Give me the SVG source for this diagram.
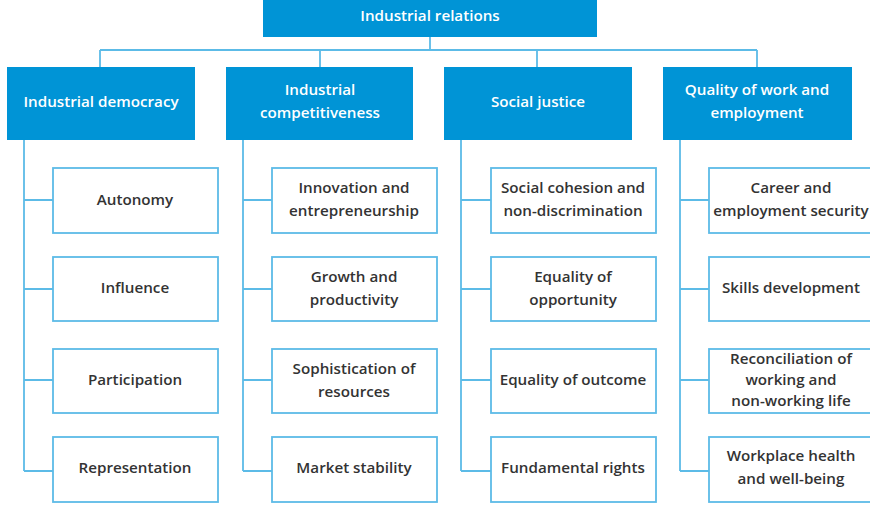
<svg xmlns="http://www.w3.org/2000/svg" width="870" height="507" viewBox="0 0 870 507">
<style>
.hd{fill:#0094d6}
.hdt{fill:#ffffff;font-family:"Open Sans",sans-serif;font-weight:600;font-size:15.2px;text-anchor:middle}
.ch{fill:#ffffff;stroke:#5cbbe7;stroke-width:1.8}
.cht{fill:#333333;font-family:"Open Sans",sans-serif;font-weight:600;font-size:15.2px;text-anchor:middle}
.ln{fill:none;stroke:#5cbbe7;stroke-width:1.8}
</style>
<rect width="870" height="507" fill="#ffffff"/>
<g id="connectors">
<path class="ln" d="M430,37V50M100,50H757M100,50V67M320,50V67M537,50V67M757,50V67"/>
<path class="ln" d="M24,140V471M24,200H53M24,289H53M24,380H53M24,471H53"/>
<path class="ln" d="M243,140V471M243,200H272M243,289H272M243,380H272M243,471H272"/>
<path class="ln" d="M461,140V471M461,200H491M461,289H491M461,380H491M461,471H491"/>
<path class="ln" d="M680,140V471M680,200H709M680,289H709M680,380H709M680,471H709"/>
</g>
<g id="root"><rect class="hd" x="263" y="0" width="334" height="37"/><text class="hdt" x="430" y="21">Industrial relations</text></g>
<g id="cat1"><rect class="hd" x="7" y="67" width="188" height="73"/><text class="hdt" x="101" y="107">Industrial democracy</text></g>
<g id="cat2"><rect class="hd" x="226" y="67" width="187" height="73"/><text class="hdt" x="320" y="95">Industrial</text><text class="hdt" x="320" y="118">competitiveness</text></g>
<g id="cat3"><rect class="hd" x="444" y="67" width="188" height="73"/><text class="hdt" x="538" y="107">Social justice</text></g>
<g id="cat4"><rect class="hd" x="663" y="67" width="189" height="73"/><text class="hdt" x="757" y="95">Quality of work and</text><text class="hdt" x="757" y="118">employment</text></g>

<g id="c1r1"><rect class="ch" x="53" y="168" width="165" height="65"/><text class="cht" x="135" y="205">Autonomy</text></g>
<g id="c1r2"><rect class="ch" x="53" y="257" width="165" height="64"/><text class="cht" x="135" y="293">Influence</text></g>
<g id="c1r3"><rect class="ch" x="53" y="349" width="165" height="64"/><text class="cht" x="135" y="385">Participation</text></g>
<g id="c1r4"><rect class="ch" x="53" y="437" width="165" height="65"/><text class="cht" x="135" y="473">Representation</text></g>

<g id="c2r1"><rect class="ch" x="272" y="168" width="165" height="65"/><text class="cht" x="354" y="193">Innovation and</text><text class="cht" x="354" y="216">entrepreneurship</text></g>
<g id="c2r2"><rect class="ch" x="272" y="257" width="165" height="64"/><text class="cht" x="354" y="282">Growth and</text><text class="cht" x="354" y="305">productivity</text></g>
<g id="c2r3"><rect class="ch" x="272" y="349" width="165" height="64"/><text class="cht" x="354" y="374">Sophistication of</text><text class="cht" x="354" y="397">resources</text></g>
<g id="c2r4"><rect class="ch" x="272" y="437" width="165" height="65"/><text class="cht" x="354" y="473">Market stability</text></g>

<g id="c3r1"><rect class="ch" x="491" y="168" width="165" height="65"/><text class="cht" x="573" y="193">Social cohesion and</text><text class="cht" x="573" y="216">non-discrimination</text></g>
<g id="c3r2"><rect class="ch" x="491" y="257" width="165" height="64"/><text class="cht" x="573" y="282">Equality of</text><text class="cht" x="573" y="305">opportunity</text></g>
<g id="c3r3"><rect class="ch" x="491" y="349" width="165" height="64"/><text class="cht" x="573" y="385">Equality of outcome</text></g>
<g id="c3r4"><rect class="ch" x="491" y="437" width="165" height="65"/><text class="cht" x="573" y="473">Fundamental rights</text></g>

<g id="c4r1"><rect class="ch" x="709" y="168" width="170" height="65"/><text class="cht" x="791" y="193">Career and</text><text class="cht" x="791" y="216">employment security</text></g>
<g id="c4r2"><rect class="ch" x="709" y="257" width="170" height="64"/><text class="cht" x="791" y="293">Skills development</text></g>
<g id="c4r3"><rect class="ch" x="709" y="349" width="170" height="64"/><text class="cht" x="791" y="364">Reconciliation of</text><text class="cht" x="791" y="385">working and</text><text class="cht" x="791" y="406">non-working life</text></g>
<g id="c4r4"><rect class="ch" x="709" y="437" width="170" height="65"/><text class="cht" x="791" y="461">Workplace health</text><text class="cht" x="791" y="484">and well-being</text></g>
</svg>
